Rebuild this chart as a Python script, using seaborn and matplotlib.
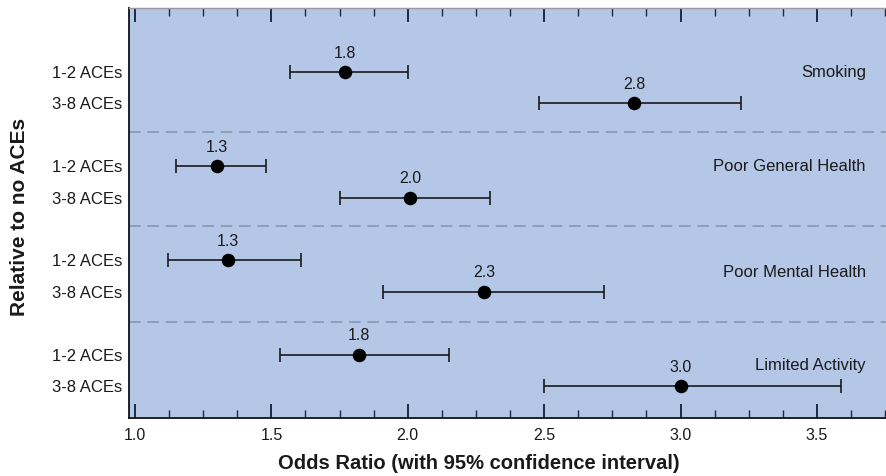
import matplotlib
matplotlib.use("Agg")
import matplotlib.pyplot as plt
from matplotlib.ticker import MultipleLocator, FormatStrFormatter
import numpy as np
import pandas as pd
import seaborn as sns

# Odds ratios with 95% confidence intervals, relative to no ACEs
outcomes = ["Smoking", "Poor General Health", "Poor Mental Health", "Limited Activity"]
exposure = ["1-2 ACEs", "3-8 ACEs"]
odds_ratio = [1.77, 2.83, 1.30, 2.01, 1.34, 2.28, 1.82, 3.00]
ci_low = [1.57, 2.48, 1.15, 1.75, 1.12, 1.91, 1.53, 2.50]
ci_high = [2.00, 3.22, 1.48, 2.30, 1.61, 2.72, 2.15, 3.59]
or_labels = ["1.8", "2.8", "1.3", "2.0", "1.3", "2.3", "1.8", "3.0"]

# row layout: two rows per outcome, outcomes separated by a gap
row_pos = [3 * g + i for g in range(len(outcomes)) for i in range(len(exposure))]
separators = [1.9, 4.9, 7.95]
outcome_label_y = [0.0, 3.0, 6.4, 9.35]

df = pd.DataFrame({
    "outcome": np.repeat(outcomes, len(exposure)),
    "exposure": exposure * len(outcomes),
    "or": odds_ratio,
    "lo": ci_low,
    "hi": ci_high,
    "row": row_pos,
})

sns.set_theme(style="white")
plt.rcParams["font.family"] = ["Liberation Sans", "DejaVu Sans"]

fig = plt.figure(figsize=(8.87, 4.76), dpi=100)
ax = fig.add_axes([129 / 887, 1 - 418 / 476, 1 - 129 / 887, (418 - 8) / 476])
ax.set_facecolor("#b4c7e7")

# confidence intervals
ax.errorbar(df["or"], df["row"],
            xerr=[df["or"] - df["lo"], df["hi"] - df["or"]],
            fmt="none", ecolor="#1a1a1a", elinewidth=1.2,
            capsize=5, capthick=1.2, zorder=2)

# point estimates
sns.scatterplot(data=df, x="or", y="row", s=95, color="black",
                edgecolor="black", linewidth=0, ax=ax, zorder=3, legend=False)

for x, y, lab in zip(df["or"], df["row"], or_labels):
    ax.text(x, y - 0.6, lab, ha="center", va="center", fontsize=11.5,
            color="#1a1a1a")

for s in separators:
    ax.axhline(s, color="#8797b4", linewidth=1.2, dashes=(7, 4), zorder=1)

for name, y in zip(outcomes, outcome_label_y):
    ax.text(3.68, y, name, ha="right", va="center", fontsize=12,
            color="#1a1a1a")

ax.set_xlim(0.978, 3.757)
ax.set_ylim(10 + 1.02, -2.04)

ax.set_yticks(row_pos)
ax.set_yticklabels(df["exposure"], fontsize=12, color="#1a1a1a")
ax.tick_params(axis="y", length=0, pad=5)

ax.xaxis.set_major_locator(MultipleLocator(0.5))
ax.xaxis.set_minor_locator(MultipleLocator(0.125))
ax.xaxis.set_major_formatter(FormatStrFormatter("%.1f"))
ax.tick_params(axis="x", which="major", direction="in", length=10, width=1.4,
               color="#1c2a45", top=True, bottom=True, labelsize=11.5,
               labelcolor="#1a1a1a", pad=7)
ax.tick_params(axis="x", which="minor", direction="in", length=6, width=1.0,
               color="#1c2a45", top=True, bottom=True)

ax.set_xlabel("Odds Ratio (with 95% confidence interval)", fontsize=14.5,
              fontweight="bold", color="#1a1a1a")
ax.set_ylabel("Relative to no ACEs", fontsize=15, fontweight="bold",
              color="#1a1a1a")
ax.xaxis.set_label_coords(0.462, -0.11)
ax.xaxis.label.set_va("center")
ax.yaxis.set_label_coords(-0.145, 0.49)
ax.yaxis.label.set_va("center")

for side in ["left", "bottom"]:
    ax.spines[side].set_color("#111111")
    ax.spines[side].set_linewidth(1.3)
ax.spines["top"].set_color("#9a9a9a")
ax.spines["top"].set_linewidth(1.0)
ax.spines["right"].set_visible(False)

fig.savefig("out.png", dpi=100)
